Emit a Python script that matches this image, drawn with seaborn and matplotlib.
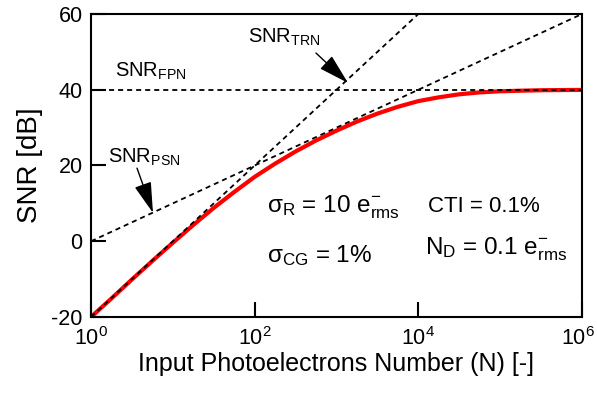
import numpy as np
import pandas as pd
import matplotlib
matplotlib.use("Agg")
import matplotlib.pyplot as plt
import matplotlib.transforms as mtransforms
import seaborn as sns

# ---- data ----
n_total = [1, 1.78, 3.16, 5.62, 10, 17.8, 31.6, 56.2, 100, 178, 316, 562, 1000,
           1778, 3162, 5623, 10000, 17783, 31623, 56234, 100000, 177828,
           316228, 562341, 1000000]
snr_total = [-20.0, -15.1, -10.1, -5.2, -0.4, 4.3, 8.8, 13.0, 17.0, 20.5, 23.7,
             26.6, 29.2, 31.6, 33.7, 35.5, 37.0, 38.0, 38.8, 39.3, 39.6, 39.75,
             39.87, 39.92, 39.96]

n_trn = [1, 10000]
snr_trn = [-20, 60]

n_psn = [1, 1000000]
snr_psn = [0, 60]

n_fpn = [1, 1000000]
snr_fpn = [40, 40]

x_ticks = [1, 100, 10000, 1000000]
x_labels = ["$10^{0}$", "$10^{2}$", "$10^{4}$", "$10^{6}$"]
y_ticks = [-20, 0, 20, 40, 60]

sns.set_theme(style="white")
plt.rcParams["font.family"] = ["Liberation Sans", "DejaVu Sans"]
plt.rcParams["mathtext.fontset"] = "custom"
plt.rcParams["mathtext.rm"] = "Liberation Sans"
plt.rcParams["mathtext.it"] = "Liberation Sans"
plt.rcParams["mathtext.bf"] = "Liberation Sans"
plt.rcParams["mathtext.default"] = "regular"
for key in ("text.color", "axes.labelcolor", "xtick.color", "ytick.color",
            "axes.edgecolor"):
    plt.rcParams[key] = "black"

fig = plt.figure(figsize=(5.97, 4.05), dpi=100)
ax = fig.add_axes([91/597, 1 - 317/405, (582-91)/597, (317-14)/405])

df_total = pd.DataFrame({"N": n_total, "SNR": snr_total})
df_trn = pd.DataFrame({"N": n_trn, "SNR": snr_trn})
df_psn = pd.DataFrame({"N": n_psn, "SNR": snr_psn})
df_fpn = pd.DataFrame({"N": n_fpn, "SNR": snr_fpn})

sns.lineplot(data=df_total, x="N", y="SNR", ax=ax, color="#ff0000", lw=3.0, zorder=2)
for d in (df_trn, df_psn, df_fpn):
    sns.lineplot(data=d, x="N", y="SNR", ax=ax, color="black", lw=1.3,
                 linestyle=(0, (2.8, 2.2)), zorder=3)

ax.set_xscale("log")
ax.set_xlim(1, 1e6)
ax.set_ylim(-20, 60)
ax.set_xticks(x_ticks)
ax.set_xticklabels(x_labels)
ax.minorticks_off()
ax.set_yticks(y_ticks)
ax.set_yticklabels([str(v) for v in y_ticks])
ax.tick_params(axis="both", direction="in", length=11, width=1.5, labelsize=15.5,
               bottom=True, left=True, colors="black")
ax.tick_params(axis="x", pad=7)
ax.tick_params(axis="y", pad=6)
last = ax.get_xticklabels()[-1]
last.set_transform(last.get_transform() +
                   mtransforms.ScaledTranslation(-4/100, 0, fig.dpi_scale_trans))
for s in ax.spines.values():
    s.set_linewidth(1.5)
    s.set_color("black")

ax.set_xlabel("Input Photoelectrons Number (N) [-]", fontsize=18, labelpad=2)
ax.set_ylabel("SNR [dB]", fontsize=20, labelpad=6)

lab_kw = dict(fontsize=14.5, va="baseline")
ax.text(1.96, 43.4, "SNR$_{\\mathrm{FPN}}$", **lab_kw)
ax.text(1.61, 20.7, "SNR$_{\\mathrm{PSN}}$", **lab_kw)
ax.text(82.9, 52.3, "SNR$_{\\mathrm{TRN}}$", **lab_kw)

arrow = dict(arrowstyle="-|>,head_length=1.6,head_width=0.45", color="black",
             lw=1.0, shrinkA=0, shrinkB=0)
ax.annotate("", xy=(5.72, 7.5), xytext=(3.65, 19.3), arrowprops=arrow)
ax.annotate("", xy=(1382, 41.8), xytext=(561, 49.7), arrowprops=arrow)

t_kw = dict(fontsize=17.5, va="baseline")
ax.text(141.5, 7.7, "σ$_{\\mathrm{R}}$ = 10 e$^{-}_{\\mathrm{rms}}$", **t_kw)
ax.text(13130, 7.7, "CTI = 0.1%", fontsize=16, va="baseline")
ax.text(141.5, -5.5, "σ$_{\\mathrm{CG}}$ = 1%", **t_kw)
ax.text(12060, -3.6, "N$_{\\mathrm{D}}$ = 0.1 e$^{-}_{\\mathrm{rms}}$", **t_kw)

fig.savefig("out.png", dpi=100)
